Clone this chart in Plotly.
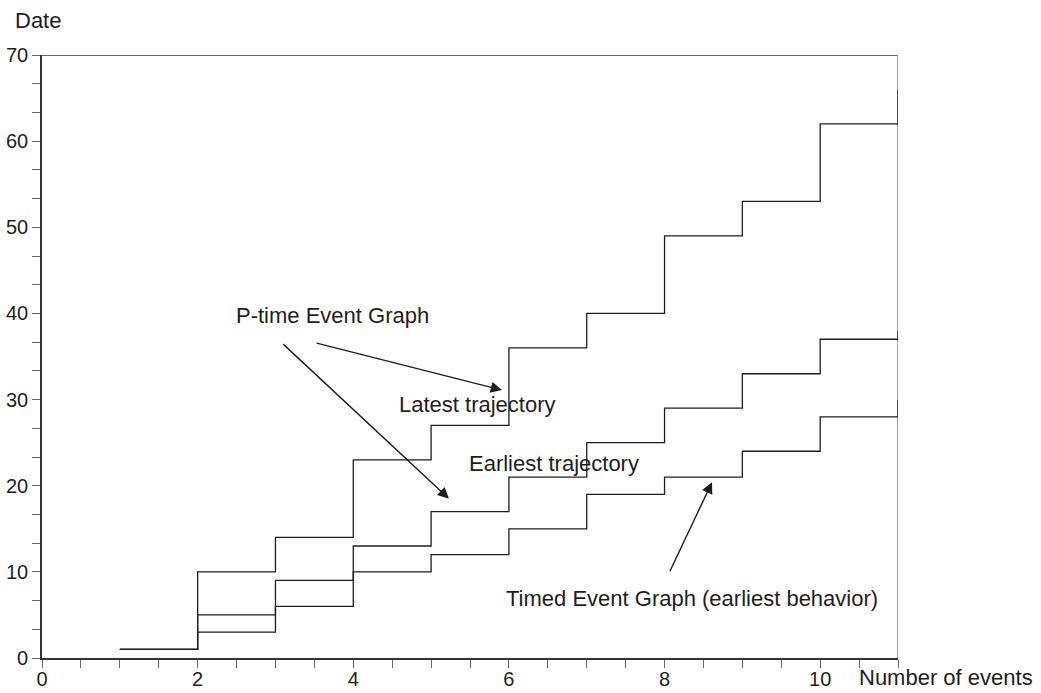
import plotly.graph_objects as go

# Event index k = 1..11; the value at 11 is the date of the next firing,
# drawn as the last vertical step at the right border.
events = [1, 2, 3, 4, 5, 6, 7, 8, 9, 10, 11]
latest = [1, 10, 14, 23, 27, 36, 40, 49, 53, 62, 66]
earliest = [1, 5, 9, 13, 17, 21, 25, 29, 33, 37, 38]
teg_earliest = [1, 3, 6, 10, 12, 15, 19, 21, 24, 28, 30]

x_tickvals = [0, 0.5, 1, 1.5, 2, 2.5, 3, 3.5, 4, 4.5, 5, 5.5, 6, 6.5, 7, 7.5,
              8, 8.5, 9, 9.5, 10, 10.5, 11]
x_ticktext = ["0", "", "", "", "2", "", "", "", "4", "", "", "", "6", "", "",
              "", "8", "", "", "", "10", "", ""]
y_tickvals = [i * 10 / 3 for i in range(22)]
y_ticktext = [str(int(round(v))) if i % 3 == 0 else "" for i, v in enumerate(y_tickvals)]

LINE = "#1e1e1e"
TEXT = "#1e1e1e"
FONT = "Liberation Sans, Arial, sans-serif"

fig = go.Figure()
for name, ys in [("Latest trajectory", latest),
                 ("Earliest trajectory", earliest),
                 ("Timed Event Graph", teg_earliest)]:
    fig.add_trace(go.Scatter(x=events, y=ys, mode="lines", name=name,
                             line=dict(shape="hv", color=LINE, width=1.3),
                             showlegend=False, hoverinfo="skip"))

axis_common = dict(showgrid=False, zeroline=False, showline=True,
                   linecolor="#333333", linewidth=1.6, ticks="outside",
                   ticklen=8, tickwidth=1.3, tickcolor="#666666",
                   tickfont=dict(family=FONT, size=20, color=TEXT),
                   automargin=False, fixedrange=True)

fig.update_xaxes(range=[0, 11], tickmode="array", tickvals=x_tickvals,
                 ticktext=x_ticktext, ticklabelstandoff=-6, **axis_common)
fig.update_yaxes(range=[0, 70], tickmode="array", tickvals=y_tickvals,
                 ticktext=y_ticktext, **axis_common)

# top and right borders of the frame
fig.add_shape(type="line", x0=0, x1=11, y0=70, y1=70, xref="x", yref="y",
              line=dict(color="#333333", width=1.4), layer="below")
fig.add_shape(type="line", x0=11, x1=11, y0=0, y1=70, xref="x", yref="y",
              line=dict(color="#888888", width=1.6), layer="below")

# arrows: (tip x, tip y, tail x, tail y)
arrows = [(5.91, 31.1, 3.51, 36.6),
          (5.23, 18.5, 3.08, 36.6),
          (8.61, 20.4, 8.06, 9.9)]
for tx, ty, sx, sy in arrows:
    fig.add_annotation(x=tx, y=ty, ax=sx, ay=sy, xref="x", yref="y",
                       axref="x", ayref="y", text="", showarrow=True,
                       arrowhead=2, arrowsize=1.6, arrowwidth=1.4,
                       arrowcolor=LINE, standoff=0, startstandoff=0)

labels = [("P-time Event Graph", 3.73, 39.8),
          ("Latest trajectory", 5.59, 29.4),
          ("Earliest trajectory", 6.58, 22.6),
          ("Timed Event Graph (earliest behavior)", 8.35, 6.85)]
for txt, x, y in labels:
    fig.add_annotation(x=x, y=y, xref="x", yref="y", text=txt,
                       showarrow=False, xanchor="center", yanchor="middle",
                       font=dict(family=FONT, size=22, color=TEXT))

# axis titles
fig.add_annotation(x=-0.005, y=1.058, xref="paper", yref="paper", text="Date",
                   showarrow=False, xanchor="center", yanchor="middle",
                   font=dict(family=FONT, size=22, color=TEXT))
fig.add_annotation(x=1.056, y=-0.033, xref="paper", yref="paper",
                   text="Number of events", showarrow=False,
                   xanchor="center", yanchor="middle",
                   font=dict(family=FONT, size=22, color=TEXT))

fig.update_layout(width=1041, height=693, autosize=False,
                  margin=dict(l=42, r=143, t=55, b=35),
                  paper_bgcolor="white", plot_bgcolor="white")

fig.write_html("out.html")
